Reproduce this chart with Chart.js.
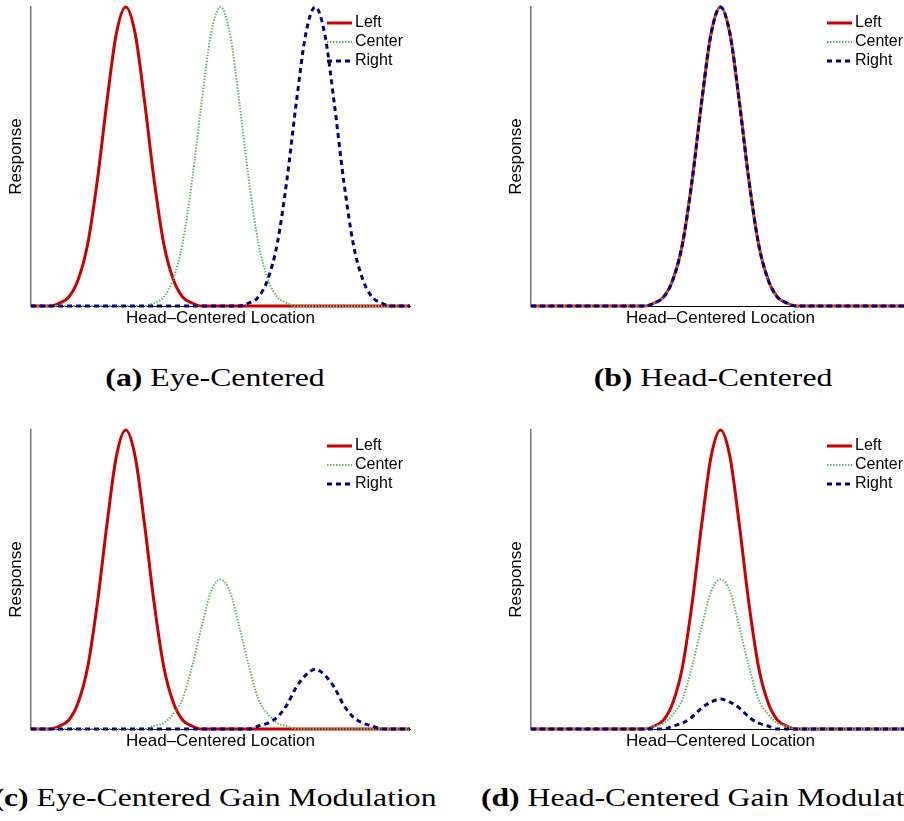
<!DOCTYPE html>
<html>
<head>
<meta charset="utf-8">
<script src="https://cdn.jsdelivr.net/npm/chart.js@4.4.1/dist/chart.umd.min.js"></script>
<style>
body{margin:0;width:904px;height:821px;overflow:hidden;background:#fff;position:relative;}
.panel{position:absolute;width:440px;height:330px;}
.cap{position:absolute;width:600px;text-align:center;font-family:'Liberation Serif',serif;font-size:26px;line-height:26px;white-space:nowrap;color:#000;transform:scaleX(1.22);}
</style>
</head>
<body>
<div class="panel" style="left:0;top:0"><canvas id="chartA"></canvas></div>
<div class="panel" style="left:500px;top:0"><canvas id="chartB"></canvas></div>
<div class="panel" style="left:0;top:423px"><canvas id="chartC"></canvas></div>
<div class="panel" style="left:500px;top:423px"><canvas id="chartD"></canvas></div>
<div class="cap" style="left:-85px;top:365px"><b>(a)</b> Eye-Centered</div>
<div class="cap" style="left:413px;top:365px"><b>(b)</b> Head-Centered</div>
<div class="cap" style="left:-85px;top:785px"><b>(c)</b> Eye-Centered Gain Modulation</div>
<div class="cap" style="left:413px;top:785px"><b>(d)</b> Head-Centered Gain Modulation</div>
<script>
// head-centered location, 0..100, step 2.5
var locations = [0,2.5,5,7.5,10,12.5,15,17.5,20,22.5,25,27.5,30,32.5,35,37.5,40,42.5,45,47.5,50,
  52.5,55,57.5,60,62.5,65,67.5,70,72.5,75,77.5,80,82.5,85,87.5,90,92.5,95,97.5,100];

// eye-centered cells (a)
var eyeLeft   = [0,0,0,0.01,0.03,0.09,0.21,0.42,0.68,0.91,1,0.91,0.68,0.42,0.21,0.09,0.03,0.01,0,0,0,
  0,0,0,0,0,0,0,0,0,0,0,0,0,0,0,0,0,0,0,0];
var eyeCenter = [0,0,0,0,0,0,0,0,0,0,0,0,0,0.01,0.03,0.09,0.21,0.42,0.68,0.91,1,
  0.91,0.68,0.42,0.21,0.09,0.03,0.01,0,0,0,0,0,0,0,0,0,0,0,0,0];
var eyeRight  = [0,0,0,0,0,0,0,0,0,0,0,0,0,0,0,0,0,0,0,0,0,
  0,0,0.01,0.03,0.09,0.21,0.42,0.68,0.91,1,0.91,0.68,0.42,0.21,0.09,0.03,0.01,0,0,0];

// head-centered (b): all three eye positions give the same curve
var headCurve = [0,0,0,0,0,0,0,0,0,0,0,0,0,0.01,0.03,0.09,0.21,0.42,0.68,0.91,1,
  0.91,0.68,0.42,0.21,0.09,0.03,0.01,0,0,0,0,0,0,0,0,0,0,0,0,0];

// gain modulated (c, d)
var gainCenter = [0,0,0,0,0,0,0,0,0,0,0,0,0,0.01,0.02,0.05,0.1,0.21,0.34,0.46,0.5,
  0.46,0.34,0.21,0.1,0.05,0.02,0.01,0,0,0,0,0,0,0,0,0,0,0,0,0];
var gainEyeRight = [0,0,0,0,0,0,0,0,0,0,0,0,0,0,0,0,0,0,0,0,0,
  0,0,0,0.01,0.02,0.04,0.08,0.14,0.18,0.2,0.18,0.14,0.08,0.04,0.02,0.01,0,0,0,0];
var gainHeadRight = [0,0,0,0,0,0,0,0,0,0,0,0,0,0,0,0.01,0.02,0.04,0.07,0.09,0.1,
  0.09,0.07,0.04,0.02,0.01,0,0,0,0,0,0,0,0,0,0,0,0,0,0,0];

var seriesNames = ['Left', 'Center', 'Right'];
var xLabel = 'Head\u2013Centered Location';
var yLabel = 'Response';

function pts(vals) {
  return vals.map(function(v, i){ return {x: locations[i], y: v}; });
}

// legend drawn inside the plot, top right
var cornerLegend = {
  id: 'cornerLegend',
  afterDatasetsDraw: function(chart) {
    var ctx = chart.ctx, area = chart.chartArea;
    ctx.save();
    chart.data.datasets.forEach(function(ds, i){
      var x0 = area.left + 296;
      var y = area.top + 16 + i * 19;
      ctx.beginPath();
      ctx.strokeStyle = ds.borderColor;
      ctx.lineWidth = ds.borderWidth;
      ctx.setLineDash(ds.borderDash || []);
      ctx.moveTo(x0, y);
      ctx.lineTo(x0 + 25, y);
      ctx.stroke();
      ctx.setLineDash([]);
      ctx.fillStyle = '#000';
      ctx.font = "16px 'Liberation Sans', Arial, sans-serif";
      ctx.textBaseline = 'middle';
      ctx.fillText(ds.label, x0 + 28, y);
    });
    ctx.restore();
  }
};

function makePanel(id, left, center, right) {
  var titleFont = {family: "'Liberation Sans', Arial, sans-serif", size: 17, lineHeight: 1};
  return new Chart(document.getElementById(id), {
    type: 'line',
    data: {
      datasets: [
        {label: seriesNames[0], data: pts(left), borderColor: '#cc0000', borderWidth: 3, order: 3},
        {label: seriesNames[1], data: pts(center), borderColor: '#5fb85f', borderWidth: 2, borderDash: [1.5, 1.5], order: 2},
        {label: seriesNames[2], data: pts(right), borderColor: '#000080', borderWidth: 3, borderDash: [5, 4], order: 1}
      ]
    },
    options: {
      responsive: true,
      maintainAspectRatio: false,
      animation: false,
      events: [],
      layout: {autoPadding: false, padding: {top: 7, right: 30, bottom: 3, left: 0}},
      elements: {
        point: {radius: 0},
        line: {cubicInterpolationMode: 'monotone', fill: false, borderCapStyle: 'butt'}
      },
      datasets: {line: {clip: false}},
      scales: {
        x: {
          type: 'linear', min: 0, max: 100,
          grid: {display: false, drawTicks: false},
          border: {display: true, color: '#000', width: 1},
          ticks: {display: false},
          title: {display: true, text: xLabel, color: '#000', font: titleFont, padding: {top: 4, bottom: 0}}
        },
        y: {
          min: 0, max: 1,
          grid: {display: false, drawTicks: false},
          border: {display: true, color: '#777', width: 1.5},
          ticks: {display: false},
          title: {display: true, text: yLabel, color: '#000', font: titleFont, padding: {top: 8, bottom: 6}}
        }
      },
      plugins: {legend: {display: false}, tooltip: {enabled: false}}
    },
    plugins: [cornerLegend]
  });
}

makePanel('chartA', eyeLeft, eyeCenter, eyeRight);
makePanel('chartB', headCurve, headCurve, headCurve);
makePanel('chartC', eyeLeft, gainCenter, gainEyeRight);
makePanel('chartD', headCurve, gainCenter, gainHeadRight);
</script>
</body>
</html>
